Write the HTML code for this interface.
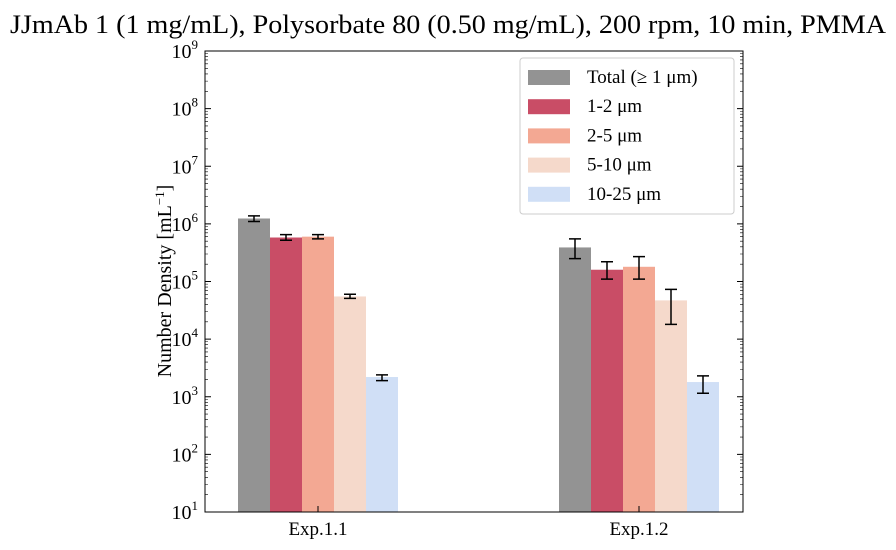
<!DOCTYPE html>
<html><head><meta charset="utf-8"><style>
body{margin:0;background:#fff;}
svg text{font-family:"Liberation Serif",serif;}
</style></head><body>
<svg id="chart" width="896" height="545" viewBox="0 0 896 545" xmlns="http://www.w3.org/2000/svg">
<text x="10" y="33" font-size="26" textLength="876" lengthAdjust="spacingAndGlyphs">JJmAb 1 (1 mg/mL), Polysorbate 80 (0.50 mg/mL), 200 rpm, 10 min, PMMA</text>
<text transform="translate(171,281) rotate(-90)" text-anchor="middle" font-size="20">Number Density [mL<tspan font-size="13" dy="-7">−1</tspan><tspan dy="7">]</tspan></text>
<g id="bars"></g>
<g id="axes"></g>
<g id="legend"></g>
</svg>
<script>
const categories=["Exp.1.1","Exp.1.2"];
const seriesNames=["Total (≥ 1 μm)","1-2 μm","2-5 μm","5-10 μm","10-25 μm"];
const totalVals=[1.24e6,3.9e5];
const s12Vals=[5.8e5,1.6e5];
const s25Vals=[6.0e5,1.8e5];
const s510Vals=[5.5e4,4.7e4];
const s1025Vals=[2.2e3,1.8e3];
const errLow=[[1.1e6,2.5e5],[5.2e5,1.1e5],[5.5e5,1.1e5],[5.1e4,1.8e4],[1.9e3,1.15e3]];
const errHigh=[[1.38e6,5.5e5],[6.5e5,2.2e5],[6.5e5,2.7e5],[6.0e4,7.3e4],[2.4e3,2.3e3]];
const yTickExps=[1,2,3,4,5,6,7,8,9];
const series=[totalVals,s12Vals,s25Vals,s510Vals,s1025Vals];
const colors=["#939393","#c94d66","#f3a893","#f5d9cb","#d0dff6"];
const NS="http://www.w3.org/2000/svg";
const L=205,R=743,T=51,B=512;
const y=v=>B-(Math.log10(v)-1)*(B-T)/8;
const groupX=[318,639];const bw=32;
function mk(tag,attrs,parent){const e=document.createElementNS(NS,tag);for(const k in attrs)e.setAttribute(k,attrs[k]);parent.appendChild(e);return e;}
const gb=document.getElementById('bars');
series.forEach((vals,si)=>{vals.forEach((v,ci)=>{
 const x=groupX[ci]+(si-2.5)*bw;
 const r=mk('rect',{x:x,y:y(v),width:bw,height:B-y(v),fill:colors[si]},gb);
 
 
 const cx=x+bw/2,y1=y(errHigh[si][ci]),y2=y(errLow[si][ci]);
 const eb=mk('path',{d:`M${cx} ${y1}V${y2}M${cx-6} ${y1}H${cx+6}M${cx-6} ${y2}H${cx+6}`,stroke:'#000','stroke-width':1.5,fill:'none'},gb);
 
 
});});
const ga=document.getElementById('axes');
const fr=mk('rect',{x:L,y:T,width:R-L,height:B-T,fill:'none',stroke:'#000','stroke-width':1},ga);


yTickExps.forEach(e=>{const yy=y(Math.pow(10,e));
 mk('path',{d:`M${L} ${yy}h6M${R} ${yy}h-6`,stroke:'#000'},ga);
 for(let m=2;m<10&&e<9;m++){const ym=y(m*Math.pow(10,e));mk('path',{d:`M${L} ${ym}h3M${R} ${ym}h-3`,stroke:'#000','stroke-width':0.6},ga);}
 const t=mk('text',{x:L-7,y:yy+7,'text-anchor':'end','font-size':20},ga);
 
 
 t.innerHTML='10<tspan font-size="13" dy="-9">'+e+'</tspan>';
});
categories.forEach((c,i)=>{
 mk('path',{d:`M${groupX[i]} ${B}v-6`,stroke:'#000'},ga);
 const t=mk('text',{x:groupX[i],y:B+23,'text-anchor':'middle','font-size':19},ga);
 
 
 t.textContent=c;
});
const gl=document.getElementById('legend');
const lb=mk('rect',{x:520,y:58,width:214,height:156,rx:3,fill:'#fff',stroke:'#ccc'},gl);


seriesNames.forEach((n,i)=>{const yy=77+i*29.2;
 const sw=mk('rect',{x:528,y:yy-7,width:42,height:15,fill:colors[i]},gl);
 
 
 const t=mk('text',{x:587,y:yy+6,'font-size':19},gl);
 
 
 t.textContent=n;
});
</script>
</body></html>
